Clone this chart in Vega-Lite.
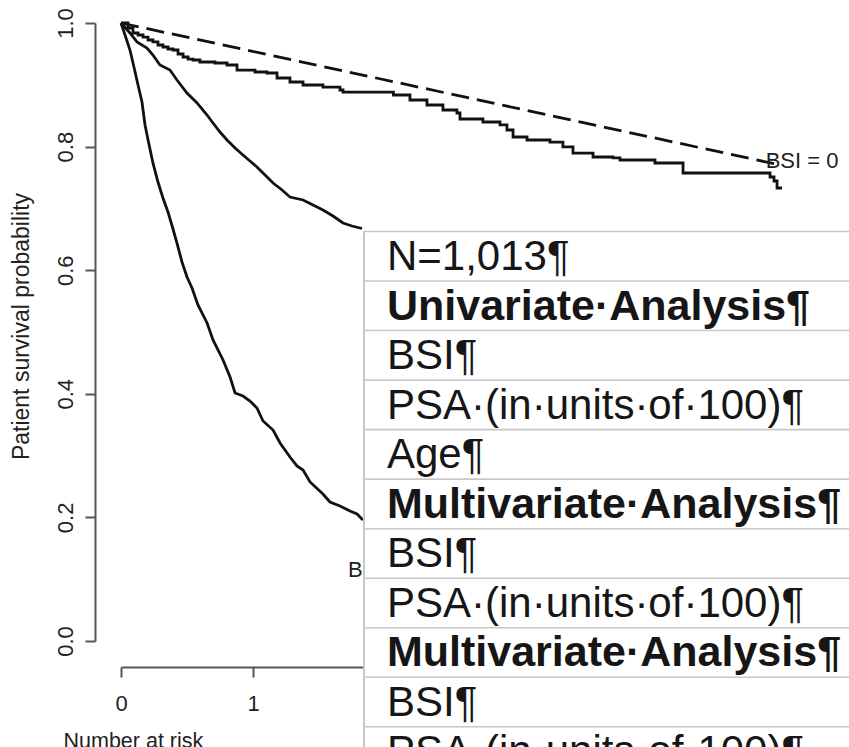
{
  "$schema": "https://vega.github.io/schema/vega-lite/v6.json",
  "width": 726,
  "height": 618,
  "autosize": {"type": "none"},
  "padding": {"left": 121, "top": 23, "right": 2, "bottom": 106},
  "background": "white",
  "config": {"view": {"stroke": null}, "font": "Liberation Sans"},
  "datasets": {
    "observed0": [
      {"t": 0, "s": 1}, {"t": 0.053, "s": 0.9919}, {"t": 0.091, "s": 0.9838}, {"t": 0.129, "s": 0.9806},
      {"t": 0.167, "s": 0.9773}, {"t": 0.205, "s": 0.9725}, {"t": 0.242, "s": 0.9693}, {"t": 0.28, "s": 0.9644},
      {"t": 0.318, "s": 0.9612}, {"t": 0.356, "s": 0.9579}, {"t": 0.394, "s": 0.9563}, {"t": 0.432, "s": 0.9498},
      {"t": 0.47, "s": 0.945}, {"t": 0.508, "s": 0.9417}, {"t": 0.545, "s": 0.9401}, {"t": 0.598, "s": 0.9369},
      {"t": 0.712, "s": 0.9353}, {"t": 0.803, "s": 0.932}, {"t": 0.879, "s": 0.9239}, {"t": 1.015, "s": 0.9207},
      {"t": 1.106, "s": 0.9191}, {"t": 1.182, "s": 0.911}, {"t": 1.28, "s": 0.9045}, {"t": 1.379, "s": 0.8997},
      {"t": 1.53, "s": 0.8964}, {"t": 1.659, "s": 0.8916}, {"t": 1.682, "s": 0.8883}, {"t": 2.064, "s": 0.8835},
      {"t": 2.189, "s": 0.8754}, {"t": 2.318, "s": 0.8673}, {"t": 2.439, "s": 0.8592}, {"t": 2.545, "s": 0.8544},
      {"t": 2.568, "s": 0.8447}, {"t": 2.742, "s": 0.8398}, {"t": 2.871, "s": 0.835}, {"t": 2.924, "s": 0.8269},
      {"t": 2.97, "s": 0.8155}, {"t": 3.076, "s": 0.8107}, {"t": 3.25, "s": 0.8074}, {"t": 3.348, "s": 0.7994},
      {"t": 3.424, "s": 0.7896}, {"t": 3.576, "s": 0.7832}, {"t": 3.727, "s": 0.7816}, {"t": 3.78, "s": 0.7783},
      {"t": 4.045, "s": 0.7735}, {"t": 4.258, "s": 0.7573}, {"t": 4.917, "s": 0.7508}, {"t": 4.947, "s": 0.7443},
      {"t": 4.97, "s": 0.733}, {"t": 5.008, "s": 0.733}
    ],
    "middle": [
      {"t": 0, "s": 1}, {"t": 0.068, "s": 0.9838}, {"t": 0.121, "s": 0.9693}, {"t": 0.197, "s": 0.9595},
      {"t": 0.242, "s": 0.9482}, {"t": 0.295, "s": 0.932}, {"t": 0.371, "s": 0.9239}, {"t": 0.424, "s": 0.9078},
      {"t": 0.5, "s": 0.8867}, {"t": 0.576, "s": 0.8706}, {"t": 0.652, "s": 0.8511}, {"t": 0.697, "s": 0.8382},
      {"t": 0.75, "s": 0.8236}, {"t": 0.803, "s": 0.8107}, {"t": 0.864, "s": 0.7977}, {"t": 0.924, "s": 0.7864},
      {"t": 0.977, "s": 0.7767}, {"t": 1.03, "s": 0.767}, {"t": 1.091, "s": 0.754}, {"t": 1.152, "s": 0.7411},
      {"t": 1.22, "s": 0.7298}, {"t": 1.28, "s": 0.7184}, {"t": 1.379, "s": 0.7136}, {"t": 1.455, "s": 0.7055},
      {"t": 1.53, "s": 0.6974}, {"t": 1.606, "s": 0.6877}, {"t": 1.682, "s": 0.6764}, {"t": 1.75, "s": 0.6715},
      {"t": 1.826, "s": 0.6675}
    ],
    "bottom": [
      {"t": 0, "s": 1}, {"t": 0.038, "s": 0.9757}, {"t": 0.068, "s": 0.9563}, {"t": 0.098, "s": 0.9288},
      {"t": 0.129, "s": 0.8997}, {"t": 0.159, "s": 0.8722}, {"t": 0.182, "s": 0.835}, {"t": 0.205, "s": 0.8107},
      {"t": 0.242, "s": 0.7735}, {"t": 0.28, "s": 0.7427}, {"t": 0.318, "s": 0.7168}, {"t": 0.356, "s": 0.6942},
      {"t": 0.394, "s": 0.6667}, {"t": 0.424, "s": 0.644}, {"t": 0.462, "s": 0.6133}, {"t": 0.5, "s": 0.589},
      {"t": 0.538, "s": 0.5712}, {"t": 0.583, "s": 0.5437}, {"t": 0.652, "s": 0.5146}, {"t": 0.697, "s": 0.4871},
      {"t": 0.773, "s": 0.4547}, {"t": 0.826, "s": 0.4272}, {"t": 0.864, "s": 0.4013}, {"t": 0.924, "s": 0.3964},
      {"t": 0.977, "s": 0.3883}, {"t": 1.03, "s": 0.377}, {"t": 1.076, "s": 0.356}, {"t": 1.152, "s": 0.3414},
      {"t": 1.205, "s": 0.3204}, {"t": 1.28, "s": 0.2977}, {"t": 1.333, "s": 0.2832}, {"t": 1.379, "s": 0.2767},
      {"t": 1.432, "s": 0.2573}, {"t": 1.53, "s": 0.2379}, {"t": 1.583, "s": 0.2249}, {"t": 1.659, "s": 0.2184},
      {"t": 1.735, "s": 0.2104}, {"t": 1.788, "s": 0.2055}, {"t": 1.833, "s": 0.1958}
    ],
    "predicted0": [{"t": 0, "s": 1}, {"t": 4.955, "s": 0.772}],
    "labels": [
      {"t": 4.884, "s": 0.7654, "label": "BSI = 0"},
      {"t": 1.72, "s": 0.1036, "label": "BSI = 1"}
    ],
    "table": [
      {"row": 0, "text": "N=1,013¶", "bold": false},
      {"row": 1, "text": "Univariate·Analysis¶", "bold": true},
      {"row": 2, "text": "BSI¶", "bold": false},
      {"row": 3, "text": "PSA·(in·units·of·100)¶", "bold": false},
      {"row": 4, "text": "Age¶", "bold": false},
      {"row": 5, "text": "Multivariate·Analysis¶", "bold": true},
      {"row": 6, "text": "BSI¶", "bold": false},
      {"row": 7, "text": "PSA·(in·units·of·100)¶", "bold": false},
      {"row": 8, "text": "Multivariate·Analysis¶", "bold": true},
      {"row": 9, "text": "BSI¶", "bold": false},
      {"row": 10, "text": "PSA·(in·units·of·100)¶", "bold": false},
      {"row": 11, "text": "", "bold": false}
    ]
  },
  "layer": [
    {
      "layer": [
        {
          "data": {"name": "bottom"},
          "mark": {"type": "line", "color": "#111111", "strokeWidth": 2.8},
          "encoding": {
            "x": {
              "field": "t", "type": "quantitative",
              "scale": {"domain": [0, 5.5], "nice": false, "zero": false},
              "axis": {
                "title": "Number at risk", "values": [0, 1, 2, 3, 4, 5], "format": "d",
                "offset": 26, "tickSize": 10, "tickWidth": 2, "domainWidth": 2,
                "domainColor": "#555555", "tickColor": "#555555", "grid": false,
                "labelPadding": 33, "labelBaseline": "alphabetic", "labelFontSize": 22,
                "labelFont": "Liberation Sans", "labelColor": "#222222", "labelFlush": false,
                "titleFont": "Liberation Sans", "titleFontSize": 21.5, "titleFontWeight": "normal",
                "titleColor": "#222222", "titleAnchor": "start", "titleAlign": "left",
                "titleBaseline": "alphabetic", "titleX": -58, "titleY": 80
              }
            },
            "y": {
              "field": "s", "type": "quantitative",
              "scale": {"domain": [0, 1], "nice": false, "zero": false},
              "axis": {
                "title": "Patient survival probability", "values": [0, 0.2, 0.4, 0.6, 0.8, 1], "format": ".1f",
                "offset": 26, "tickSize": 10, "tickWidth": 2, "domainWidth": 2,
                "domainColor": "#555555", "tickColor": "#555555", "grid": false,
                "labelAngle": -90, "labelAlign": "center", "labelBaseline": "alphabetic",
                "labelPadding": 13, "labelFontSize": 22, "labelFont": "Liberation Sans",
                "labelColor": "#222222", "labelFlush": false, "labelOverlap": false,
                "titleFont": "Liberation Sans", "titleFontSize": 23, "titleFontWeight": "normal",
                "titleColor": "#222222", "titleAngle": -90, "titleAlign": "center",
                "titleBaseline": "alphabetic", "titleX": -67, "titleY": 303
              }
            }
          }
        },
        {
          "data": {"name": "middle"},
          "mark": {"type": "line", "color": "#111111", "strokeWidth": 2.8},
          "encoding": {
            "x": {"field": "t", "type": "quantitative"},
            "y": {"field": "s", "type": "quantitative"}
          }
        },
        {
          "data": {"name": "observed0"},
          "mark": {"type": "line", "color": "#111111", "strokeWidth": 2.8, "interpolate": "step-after"},
          "encoding": {
            "x": {"field": "t", "type": "quantitative"},
            "y": {"field": "s", "type": "quantitative"}
          }
        },
        {
          "data": {"name": "predicted0"},
          "mark": {"type": "line", "color": "#111111", "strokeWidth": 2.8, "strokeDash": [18, 8]},
          "encoding": {
            "x": {"field": "t", "type": "quantitative"},
            "y": {"field": "s", "type": "quantitative"}
          }
        },
        {
          "data": {"name": "labels"},
          "mark": {"type": "text", "align": "left", "baseline": "alphabetic", "fontSize": 22, "font": "Liberation Sans", "color": "#222222"},
          "encoding": {
            "x": {"field": "t", "type": "quantitative"},
            "y": {"field": "s", "type": "quantitative"},
            "text": {"field": "label"}
          }
        }
      ]
    },
    {
      "data": {"name": "table"},
      "layer": [
        {
          "mark": {"type": "rect", "color": "white"},
          "encoding": {
            "x": {"datum": 1.84, "type": "quantitative", "scale": {"domain": [0, 5.5], "nice": false, "zero": false}, "axis": null},
            "x2": {"datum": 5.6},
            "y": {"datum": 0, "type": "quantitative", "scale": {"domain": [-4.2096, 8.2674], "reverse": true, "nice": false, "zero": false}, "axis": null},
            "y2": {"datum": 12}
          }
        },
        {
          "mark": {"type": "rule", "color": "#c8c8c8", "strokeWidth": 1.6},
          "encoding": {
            "x": {"datum": 1.84, "type": "quantitative"},
            "x2": {"datum": 5.6},
            "y": {"field": "row", "type": "quantitative"}
          }
        },
        {
          "mark": {"type": "rule", "color": "#c8c8c8", "strokeWidth": 1.6},
          "encoding": {
            "x": {"datum": 1.84, "type": "quantitative"},
            "y": {"datum": 0, "type": "quantitative"},
            "y2": {"datum": 12}
          }
        },
        {
          "transform": [{"filter": "!datum.bold"}],
          "mark": {"type": "text", "align": "left", "baseline": "alphabetic", "dy": 38.5, "fontSize": 42, "font": "Liberation Sans", "color": "#161616"},
          "encoding": {
            "x": {"datum": 2.015, "type": "quantitative"},
            "y": {"field": "row", "type": "quantitative"},
            "text": {"field": "text"}
          }
        },
        {
          "transform": [{"filter": "datum.bold"}],
          "mark": {"type": "text", "align": "left", "baseline": "alphabetic", "dy": 38.5, "fontSize": 43, "fontWeight": "bold", "font": "Liberation Sans", "color": "#161616"},
          "encoding": {
            "x": {"datum": 2.015, "type": "quantitative"},
            "y": {"field": "row", "type": "quantitative"},
            "text": {"field": "text"}
          }
        }
      ]
    }
  ],
  "resolve": {"scale": {"x": "independent", "y": "independent"}}
}
